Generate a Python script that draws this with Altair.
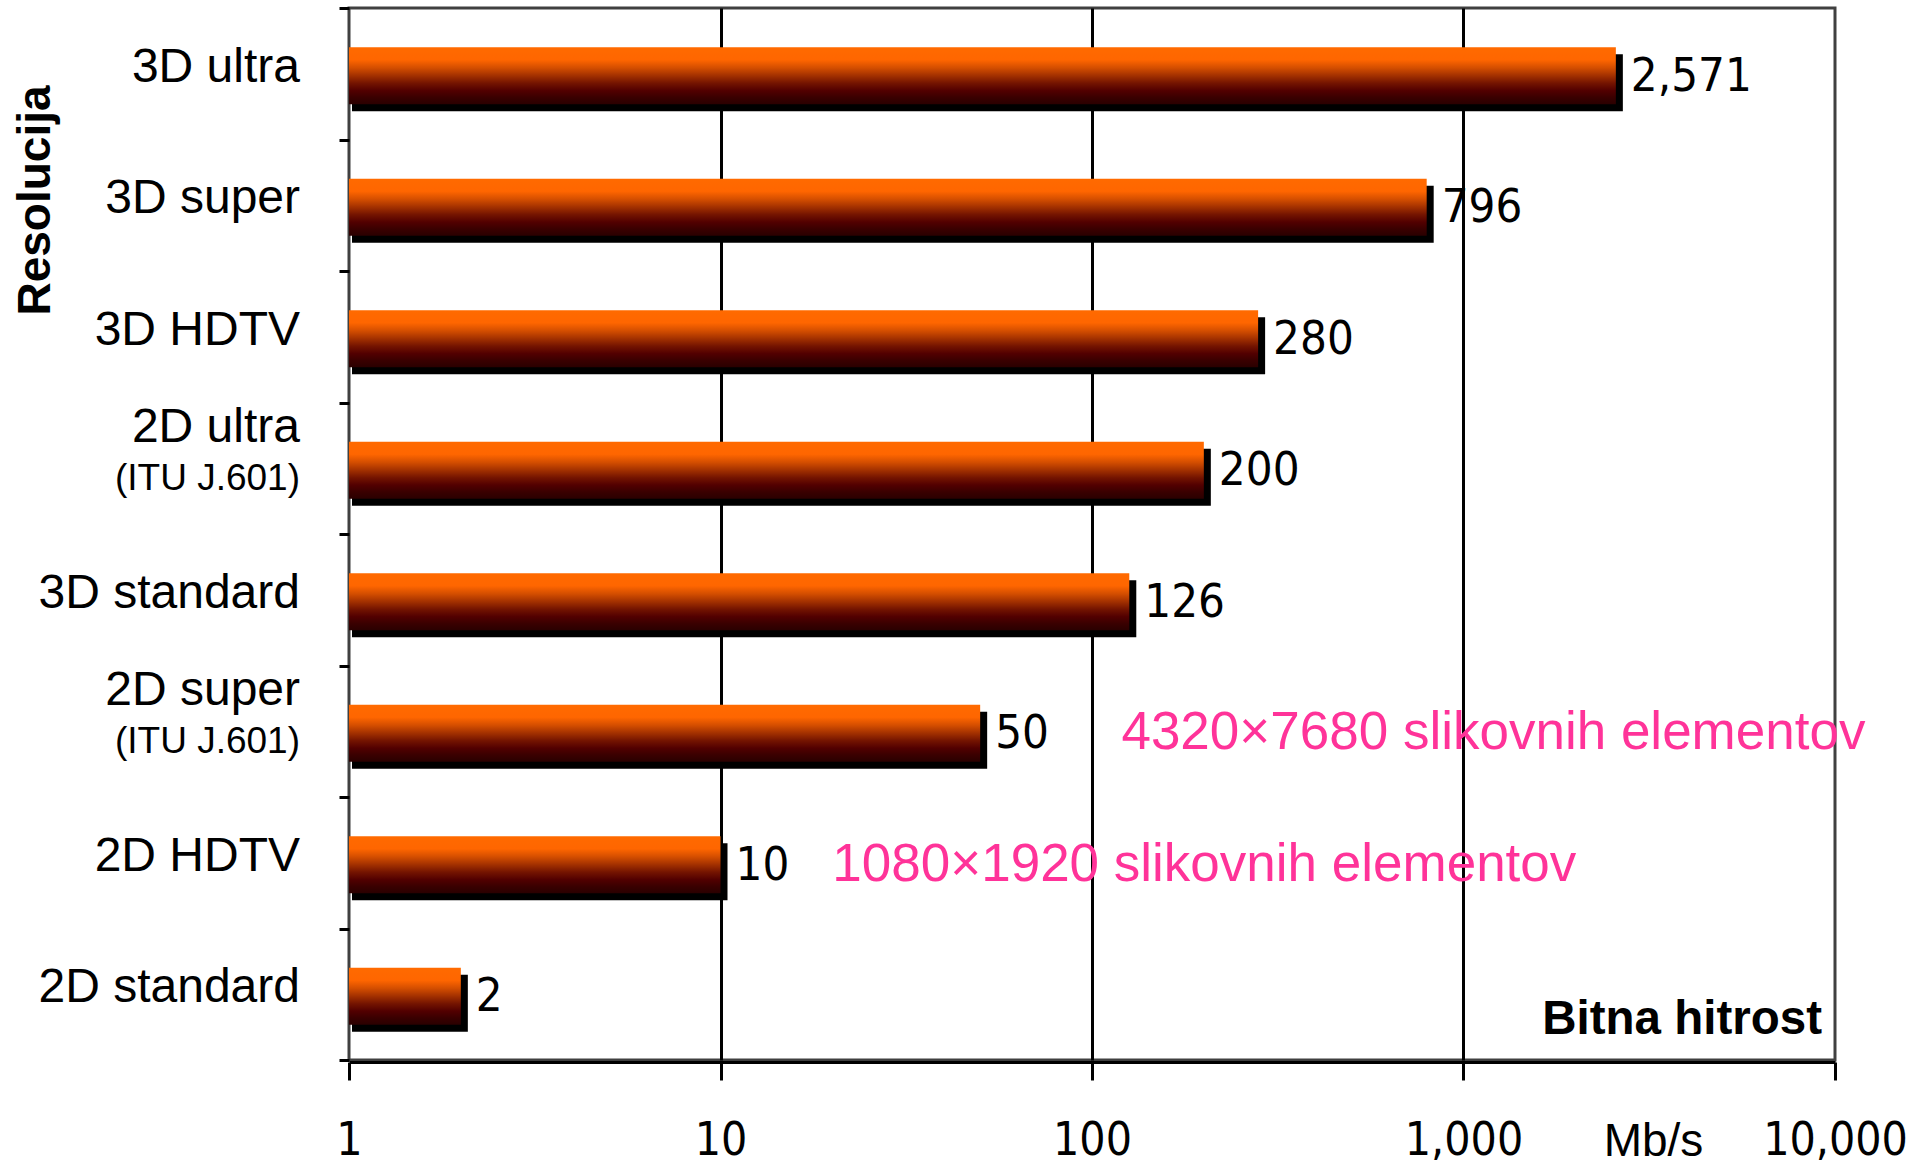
import altair as alt
import pandas as pd

# Bit rate needed per display resolution (Mb/s), top to bottom
categories = ["3D ultra", "3D super", "3D HDTV", "2D ultra",
              "3D standard", "2D super", "2D HDTV", "2D standard"]
bitrates = [2571, 796, 280, 200, 126, 50, 10, 2]
sublabels = ["", "", "", "(ITU J.601)", "", "(ITU J.601)", "", ""]
x_ticks = [1, 10, 100, 1000, 10000]

# Pixel-count notes placed next to two of the bars
note_categories = ["2D super", "2D HDTV"]
note_anchor = [120, 20]
note_texts = ["4320×7680 slikovnih elementov", "1080×1920 slikovnih elementov"]

df = pd.DataFrame({
    "kategorija": categories,
    "hitrost": bitrates,
    "podnapis": sublabels,
})
df["od"] = 1
df["dvovrstno"] = df["podnapis"] != ""
notes = pd.DataFrame({"kategorija": note_categories, "x": note_anchor,
                      "besedilo": note_texts})

SANS = "'Liberation Sans', Arial, sans-serif"
NUM = "'DejaVu Sans Condensed', 'DejaVu Sans', sans-serif"

x_scale = alt.Scale(type="log", domain=[1, 10000])
x_axis = alt.Axis(
    values=x_ticks, format=",", grid=True, gridColor="black", gridWidth=3,
    gridOpacity={"condition": {"test": "datum.value == 1 || datum.value == 10000",
                               "value": 0}, "value": 1},
    domainColor="black", domainWidth=3, offset=2,
    tickColor="black", tickWidth=3, tickSize=18,
    labelFont=NUM, labelFontSize=46, labelColor="black", labelPadding=38,
    labelFlush=False, labelOverlap=False,
    title="Mb/s", titleFont=SANS, titleFontSize=46, titleFontWeight="normal",
    titleColor="black", titleX=1304, titleY=93, titleAlign="center",
    titleBaseline="alphabetic",
)
y_axis = alt.Axis(
    title="Resolucija", labels=False, domain=False, grid=False,
    tickBand="extent", tickColor="black", tickWidth=3, tickSize=10,
    titleFont=SANS, titleFontSize=46, titleFontWeight="bold", titleColor="black",
    titleAngle=270, titleX=-300, titleY=192, titleAlign="center",
    titleBaseline="alphabetic",
)
y_enc = alt.Y("kategorija:N", sort=categories,
              scale=alt.Scale(paddingInner=0, paddingOuter=0), axis=y_axis)
x_enc = alt.X("hitrost:Q", scale=x_scale, axis=x_axis)

base = alt.Chart(df)

# Drop shadow behind each bar
shadow = base.mark_bar(color="black", size=57, xOffset=7, x2Offset=3, yOffset=9).encode(
    x=x_enc, x2="od:Q", y=y_enc
)

bar_fill = alt.Gradient(
    gradient="linear", x1=0, y1=0, x2=0, y2=1,
    stops=[
        alt.GradientStop(color="#ff6a00", offset=0.0),
        alt.GradientStop(color="#ff6600", offset=0.22),
        alt.GradientStop(color="#d44e00", offset=0.36),
        alt.GradientStop(color="#a23000", offset=0.5),
        alt.GradientStop(color="#741400", offset=0.63),
        alt.GradientStop(color="#520000", offset=0.76),
        alt.GradientStop(color="#3a0000", offset=0.88),
        alt.GradientStop(color="#2a0000", offset=1.0),
    ],
)
bars = base.mark_bar(color=bar_fill, size=57, yOffset=2).encode(
    x=x_enc, x2="od:Q", y=y_enc
)

values = base.mark_text(align="left", baseline="middle", dx=15, dy=3,
                        font=NUM, fontSize=47, color="black").encode(
    x=x_enc, y=y_enc, text=alt.Text("hitrost:Q", format=",")
)

# Category names drawn as text so two-line entries can use a smaller second line
single_names = base.transform_filter("!datum.dvovrstno").mark_text(
    align="right", baseline="middle", dy=-6, font=SANS, fontSize=48, color="black"
).encode(x=alt.value(-49), y=y_enc, text="kategorija:N")

double_names = base.transform_filter("datum.dvovrstno").mark_text(
    align="right", baseline="middle", dy=-40, font=SANS, fontSize=48, color="black"
).encode(x=alt.value(-49), y=y_enc, text="kategorija:N")

sub_names = base.transform_filter("datum.dvovrstno").mark_text(
    align="right", baseline="middle", dy=11, font=SANS, fontSize=37, color="black"
).encode(x=alt.value(-49), y=y_enc, text="podnapis:N")

note_layer = alt.Chart(notes).mark_text(
    align="left", baseline="middle", dy=2, font=SANS, fontSize=53, color="#ff3399"
).encode(x=alt.X("x:Q", scale=x_scale, axis=x_axis), y=y_enc, text="besedilo:N")

corner = alt.Chart(pd.DataFrame({"t": ["Bitna hitrost"]})).mark_text(
    align="right", baseline="alphabetic", font=SANS, fontSize=47.5,
    fontWeight="bold", color="black"
).encode(x=alt.value(1473), y=alt.value(1026), text="t:N")

chart = alt.layer(
    shadow, bars, values, single_names, double_names, sub_names, note_layer, corner
).properties(
    width=1486, height=1052,
    autosize=alt.AutoSizeParams(type="none"),
    padding={"left": 349, "top": 8, "right": 88, "bottom": 108},
    background="white",
).configure_view(stroke="#404040", strokeWidth=3)

chart.save("out.html", embed_options={"renderer": "svg", "actions": False})
